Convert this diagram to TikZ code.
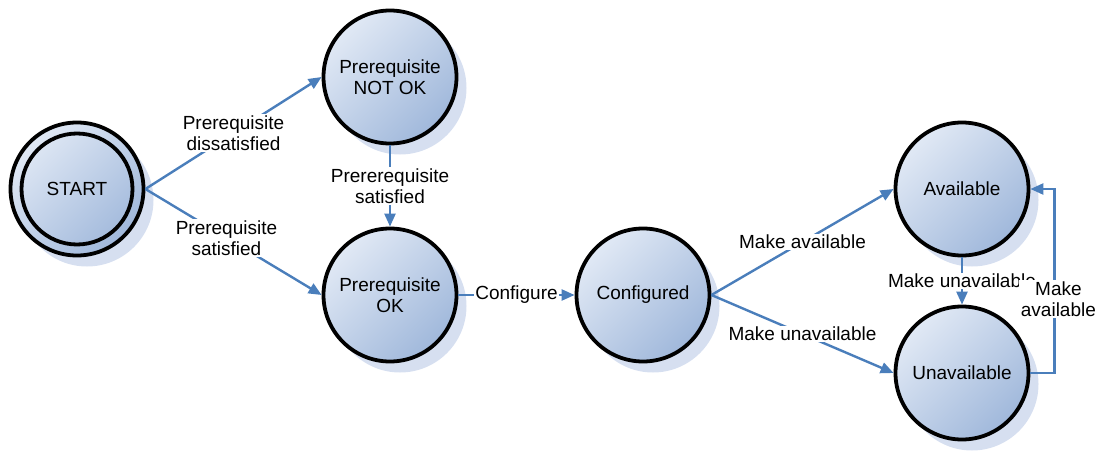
\documentclass[tikz,border=0pt]{standalone}
\usepackage{fontspec}
\setmainfont{Liberation Sans}
\usetikzlibrary{arrows.meta,shadows,calc,patterns}
\definecolor{edgeblue}{RGB}{74,126,187}
\definecolor{nodelight}{RGB}{225,233,245}
\definecolor{nodedark}{RGB}{160,184,219}
\definecolor{shadowc}{RGB}{214,223,240}
\definecolor{shadowdot}{RGB}{150,175,215}
\begin{document}
\begin{tikzpicture}[x=1pt,y=1pt,
  state/.style={circle, minimum size=133pt, inner sep=0pt, line width=3.8pt, draw=black,
    top color=nodelight, bottom color=nodedark, shading angle=45,
    drop shadow={shadow xshift=10pt, shadow yshift=-11pt, fill=shadowc, opacity=1},
    align=center, font=\fontsize{19}{21}\selectfont},
  edge/.style={draw=edgeblue, line width=2.4pt, -{Triangle[length=13pt,width=11pt]}},
  lbl/.style={fill=white, inner sep=1.5pt, align=center, font=\fontsize{19}{21}\selectfont}]
\useasboundingbox (0,0) rectangle (1095,451);
\node[state] (start) at (77,262) {START};
\node[circle, minimum size=111pt, inner sep=0pt, line width=3.8pt, draw=black] (startin) at (start.center) {};
\node[state] (notok) at (390,374) {Prerequisite\\NOT OK};
\node[state] (ok) at (390,156) {Prerequisite\\OK};
\node[state] (conf) at (643,156) {Configured};
\node[state] (avail) at (962,262) {Available};
\node[state] (unavail) at (962,78) {Unavailable};

\draw[edge] (start.east) -- node[lbl, pos=0.5]{Prerequisite\\dissatisfied} (notok.west);
\draw[edge] (start.east) -- node[lbl, pos=0.46]{Prerequisite\\satisfied} (ok.west);
\draw[edge] (notok.south) -- node[lbl]{Prererequisite\\satisfied} (ok.north);
\draw[edge] (ok.east) -- node[lbl]{Configure} (conf.west);
\draw[edge] (conf.east) -- node[lbl]{Make available} (avail.west);
\draw[edge] (conf.east) -- node[lbl]{Make unavailable} (unavail.west);
\draw[edge] (avail.south) -- node[lbl]{Make unavailable} (unavail.north);
\draw[edge] (unavail.east) -- ++(24,0) coordinate (k1) -- node[lbl, pos=0.4, xshift=4pt]{Make\\available} (k1 |- avail.east) -- (avail.east);
\end{tikzpicture}
\end{document}
